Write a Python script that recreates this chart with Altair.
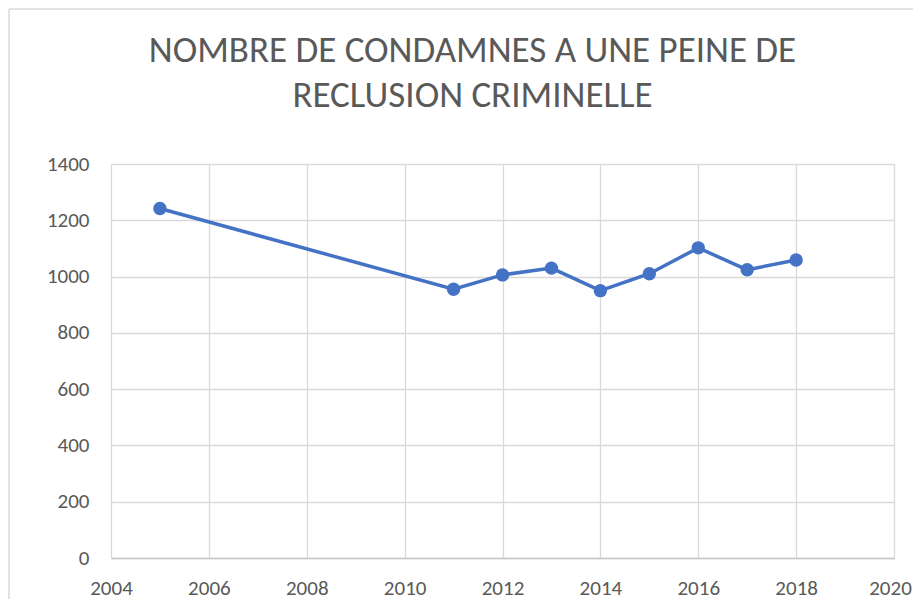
import altair as alt
import pandas as pd

years = [2005, 2011, 2012, 2013, 2014, 2015, 2016, 2017, 2018]
condamnes = [1242, 955, 1006, 1030, 950, 1010, 1102, 1024, 1059]
x_ticks = [2004, 2006, 2008, 2010, 2012, 2014, 2016, 2018, 2020]
y_ticks = [0, 200, 400, 600, 800, 1000, 1200, 1400]
title_lines = ["NOMBRE DE CONDAMNES A UNE PEINE DE", "RECLUSION CRIMINELLE"]

df = pd.DataFrame({"annee": years, "valeur": condamnes})

FONT = "Carlito, 'Liberation Sans Narrow', 'Open Sans', sans-serif"
BLUE = "#4472C4"
LABEL = "#595959"

base = alt.Chart(df).encode(
    x=alt.X("annee:Q",
            scale=alt.Scale(domain=[2004, 2020], nice=False, zero=False),
            axis=alt.Axis(values=x_ticks, format="d", title=None,
                          labelPadding=19, labelFlush=False, ticks=False, domain=True,
                          labelOffset={"condition": {"test": "datum.value == 2020", "value": -4},
                                       "value": 0},
                          domainColor="#c8c8c8", domainWidth=1.3,
                          gridColor="#d9d9d9", gridWidth=1.3,
                          labelFont=FONT, labelFontSize=21, labelColor=LABEL)),
    y=alt.Y("valeur:Q",
            scale=alt.Scale(domain=[0, 1400], nice=False),
            axis=alt.Axis(values=y_ticks, format="d", title=None, labelPadding=22,
                          ticks=False, domain=False,
                          gridColor="#d9d9d9", gridWidth=1.3,
                          labelFont=FONT, labelFontSize=21, labelColor=LABEL)),
)

line = base.mark_line(color=BLUE, strokeWidth=3.5)
points = base.mark_circle(color=BLUE, size=180, opacity=1)

border_df = pd.DataFrame({"k": [0]})
left_border = alt.Chart(border_df).mark_rule(color="#d9d9d9", strokeWidth=1.5).encode(
    x=alt.value(-102), y=alt.value(-155), y2=alt.value(440))
top_border = alt.Chart(border_df).mark_rule(color="#d9d9d9", strokeWidth=1.5).encode(
    y=alt.value(-155), x=alt.value(-102), x2=alt.value(820))

chart = alt.layer(left_border, top_border, line, points).properties(
    width=783,
    height=394,
    padding={"left": 103, "top": 156, "right": 19, "bottom": 41},
    autosize=alt.AutoSizeParams(type="none"),
    background="white",
    title=alt.TitleParams(
        text=title_lines, fontSize=37, lineHeight=45, font=FONT,
        fontWeight="normal", color=LABEL, anchor="middle",
        frame="group", dx=-30, offset=-107),
).configure_view(stroke=None)

chart.save("out.html", embed_options={"renderer": "svg", "actions": False})
